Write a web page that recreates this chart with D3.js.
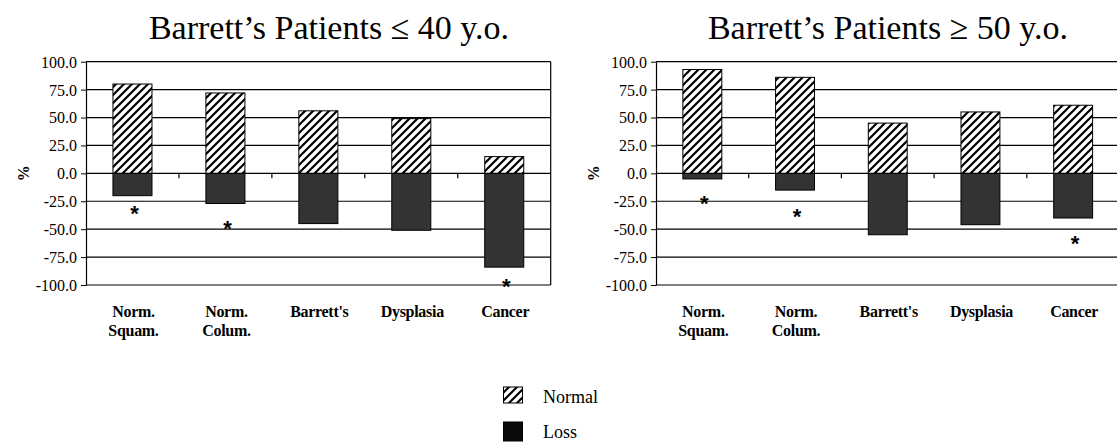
<!DOCTYPE html>
<html><head><meta charset="utf-8">
<script src="https://cdn.jsdelivr.net/npm/d3@7"></script>
<style>body{margin:0;background:#fff}svg{display:block}</style>
</head><body>
<script>
const categories = ["Norm. Squam.", "Norm. Colum.", "Barrett's", "Dysplasia", "Cancer"];
const categoryLines = [["Norm.", "Squam."], ["Norm.", "Colum."], ["Barrett's"], ["Dysplasia"], ["Cancer"]];
const yTicks = [100, 75, 50, 25, 0, -25, -50, -75, -100];
const youngTitle = "Barrett\u2019s Patients \u2264 40 y.o.";
const oldTitle = "Barrett\u2019s Patients \u2265 50 y.o.";
const youngNormal = [80, 72, 56, 49, 15];
const youngLoss = [-20, -27, -45, -51, -84];
const youngStars = [[0, -32], [1, -45], [4, -97]];
const oldNormal = [93, 86, 45, 55, 61];
const oldLoss = [-5, -15, -55, -46, -40];
const oldStars = [[0, -23], [1, -35], [4, -59]];
const seriesNames = ["Normal", "Loss"];

const W = 1117, H = 446;
const svg = d3.select("body").append("svg").attr("width", W).attr("height", H);
const defs = svg.append("defs");
const pat = defs.append("pattern").attr("id", "hatch").attr("patternUnits", "userSpaceOnUse")
  .attr("width", 8).attr("height", 8);
pat.append("rect").attr("width", 8).attr("height", 8).attr("fill", "#fff");
pat.append("path").attr("d", "M-2,2 L2,-2 M0,8 L8,0 M6,10 L10,6")
  .attr("stroke", "#000").attr("stroke-width", 2.2);

const serif = "'Liberation Serif','Times New Roman',serif";
const loss = "#333";

function chart(x0, x1, title, normal, lossV, stars, titleX) {
  const yTop = 61.7, yBot = 285;
  const g = svg.append("g");
  const x = d3.scaleBand().domain(categories).range([x0, x1]).paddingInner(0.58).paddingOuter(0.29);
  const xb = d3.scaleBand().domain(categories).range([x0, x1]);
  const y = d3.scaleLinear().domain([-100, 100]).range([yBot, yTop]);

  g.selectAll("line.grid").data(yTicks).join("line").attr("class", "grid")
    .attr("x1", x0).attr("x2", x1).attr("y1", d => y(d)).attr("y2", d => y(d))
    .attr("stroke", "#000").attr("stroke-width", 1.2);
  g.append("line").attr("x1", x1).attr("x2", x1).attr("y1", yTop).attr("y2", yBot)
    .attr("stroke", "#000").attr("stroke-width", 1.2);

  const ya = g.append("g").attr("transform", `translate(${x0},0)`)
    .call(d3.axisLeft(y).tickValues(yTicks).tickFormat(d => d.toFixed(1)).tickSize(5).tickSizeOuter(0));
  ya.attr("font-family", serif);
  ya.select(".domain").attr("stroke", "#000").attr("stroke-width", 1.2);
  ya.selectAll(".tick line").attr("stroke", "#000");
  ya.selectAll(".tick text").attr("font-family", serif).attr("font-size", 16).attr("fill", "#000")
    .attr("x", -9).attr("dy", "0.34em");

  g.selectAll("line.ct").data(categories.slice(1)).join("line").attr("class", "ct")
    .attr("x1", d => xb(d)).attr("x2", d => xb(d)).attr("y1", y(0)).attr("y2", y(0) + 5)
    .attr("stroke", "#000").attr("stroke-width", 1.2);

  g.selectAll("rect.n").data(normal).join("rect").attr("class", "n")
    .attr("x", (d, i) => x(categories[i])).attr("width", x.bandwidth())
    .attr("y", d => y(d)).attr("height", d => y(0) - y(d))
    .attr("fill", "url(#hatch)").attr("stroke", "#000").attr("stroke-width", 1);
  g.selectAll("rect.l").data(lossV).join("rect").attr("class", "l")
    .attr("x", (d, i) => x(categories[i])).attr("width", x.bandwidth())
    .attr("y", y(0)).attr("height", d => y(d) - y(0))
    .attr("fill", loss).attr("stroke", "#000").attr("stroke-width", 1);

  g.selectAll("text.star").data(stars).join("text").attr("class", "star")
    .attr("x", d => xb(categories[d[0]]) + xb.bandwidth() / 2 + 2)
    .attr("y", d => y(d[1]) + 12)
    .attr("text-anchor", "middle").attr("font-family", "'Liberation Sans',Arial,sans-serif")
    .attr("font-weight", "bold").attr("font-size", 22).text("*");

  categoryLines.forEach((lines, i) => {
    const t = g.append("text").attr("text-anchor", "middle").attr("font-family", serif)
      .attr("font-weight", "bold").attr("font-size", 16).attr("letter-spacing", -0.3);
    lines.forEach((s, j) => t.append("tspan")
      .attr("x", xb(categories[i]) + xb.bandwidth() / 2 + 1).attr("y", 316.5 + j * 19.5).text(s));
  });

  g.append("text").attr("transform", `translate(${x0 - 63},${y(0)}) rotate(-90)`)
    .attr("text-anchor", "middle").attr("font-family", serif).attr("font-weight", "bold")
    .attr("font-size", 16).attr("dy", "0.35em").text("%");

  g.append("text").attr("x", titleX).attr("y", 39).attr("text-anchor", "middle")
    .attr("font-family", serif).attr("font-size", 34).text(title);
}

chart(86, 550.7, youngTitle, youngNormal, youngLoss, youngStars, 329);
chart(656, 1119.5, oldTitle, oldNormal, oldLoss, oldStars, 888);

const lg = svg.append("g");
const lFill = ["url(#hatch)", "#0a0a0a"];
seriesNames.forEach((s, i) => {
  lg.append("rect").attr("x", 503.5).attr("y", 387 + i * 35).attr("width", 19).attr("height", i ? 19 : 16)
    .attr("fill", lFill[i]).attr("stroke", "#000").attr("stroke-width", 1);
  lg.append("text").attr("x", 543).attr("y", 403 + i * 35).attr("font-family", serif)
    .attr("font-size", 18).text(s);
});
</script>
</body></html>
